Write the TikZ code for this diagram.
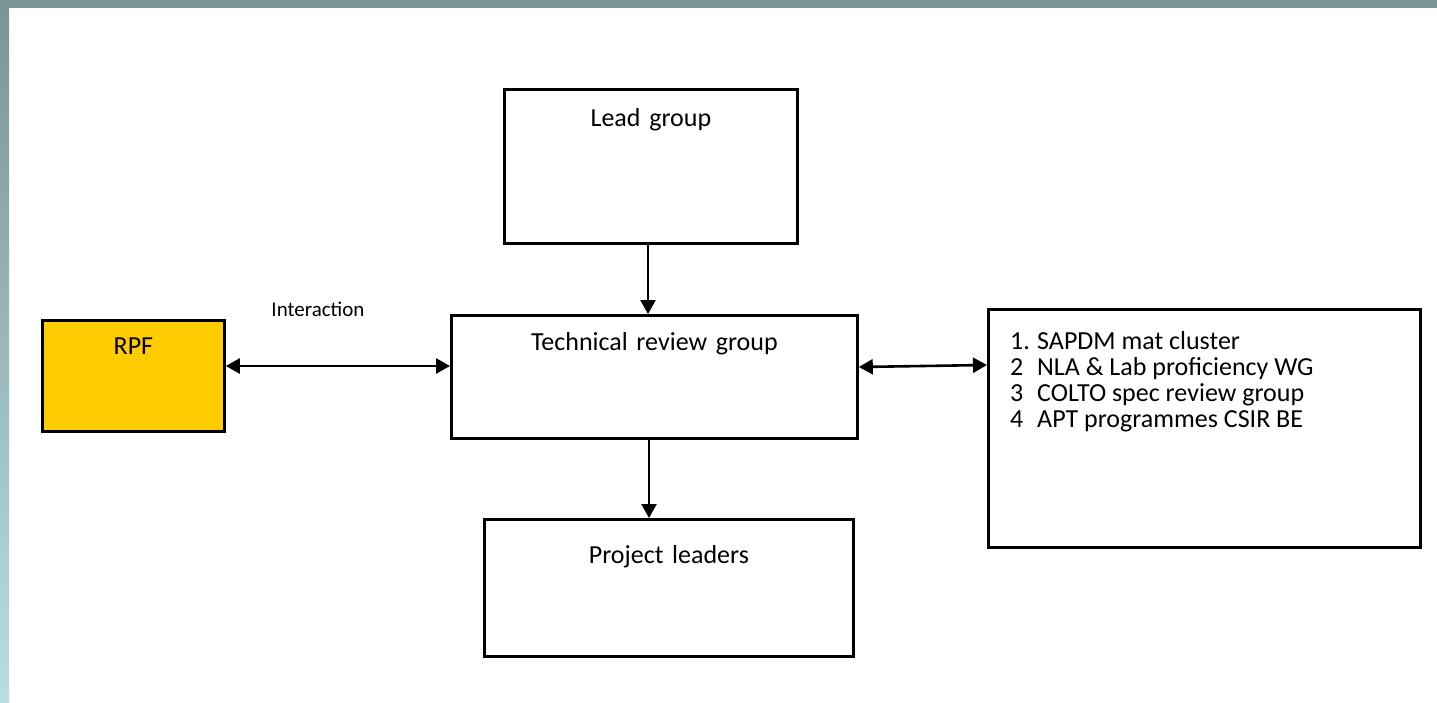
\documentclass[tikz,border=0pt]{standalone}
\usepackage{fontspec}
\setmainfont{Carlito}
\usetikzlibrary{arrows.meta}
\definecolor{barTop}{HTML}{7A9494}
\definecolor{barBot}{HTML}{B8DEE2}
\definecolor{rpfFill}{HTML}{FFCC00}
\begin{document}
\begin{tikzpicture}[x=1pt,y=-1pt,
  box/.style={draw=black, line width=2.8pt, inner sep=0pt, align=center, font=\fontsize{26}{30}\selectfont},
  conn/.style={line width=2.6pt, -{Triangle[length=14pt,width=15pt]}},
  biconn/.style={line width=2.6pt, {Triangle[length=14pt,width=15pt]}-{Triangle[length=14pt,width=15pt]}}]
\useasboundingbox (0,0) rectangle (1437,703);
\fill[white] (0,0) rectangle (1437,703);
\fill[barTop] (0,0) rectangle (1437,8);
\shade[top color=barTop, bottom color=barBot] (0,0) rectangle (9,703);
% boxes
\node[box, anchor=north west, text width=293pt, text height=37pt, text depth=117pt] (lead) at (503,88) {Lead group};
\node[box, anchor=north west, text width=406pt, text height=35pt, text depth=88pt] (trg) at (450,314) {Technical review group};
\node[box, anchor=north west, fill=rpfFill, text width=182pt, text height=34pt, text depth=77pt] (rpf) at (41,319) {RPF};
\node[box, anchor=north west, text width=369pt, text height=44pt, text depth=93pt] (pl) at (483,518) {Project leaders};
\node[box, anchor=north west, minimum width=432pt, minimum height=238pt] (list) at (987,308) {};
\node[anchor=north west, inner sep=0pt, font=\fontsize{26}{26}\selectfont] (listtxt) at (1010,331)
  {\begin{tabular}{@{}p{27pt}@{}l@{}}1.&SAPDM mat cluster\\2&NLA \& Lab proficiency WG\\3&COLTO spec review group\\4&APT programmes CSIR BE\end{tabular}};
\node[font=\fontsize{21}{24}\selectfont, inner sep=0pt] (inter) at (318,309) {Interaction};
% connectors
\draw[conn] (lead.south -| 648,0) -- (trg.north -| 648,0);
\draw[conn] (trg.south -| 649,0) -- (pl.north -| 649,0);
\draw[biconn] (rpf.east |- 0,366) -- (trg.west |- 0,366);
\draw[biconn] (trg.east |- 0,367) -- (list.west |- 0,365);
\end{tikzpicture}
\end{document}
